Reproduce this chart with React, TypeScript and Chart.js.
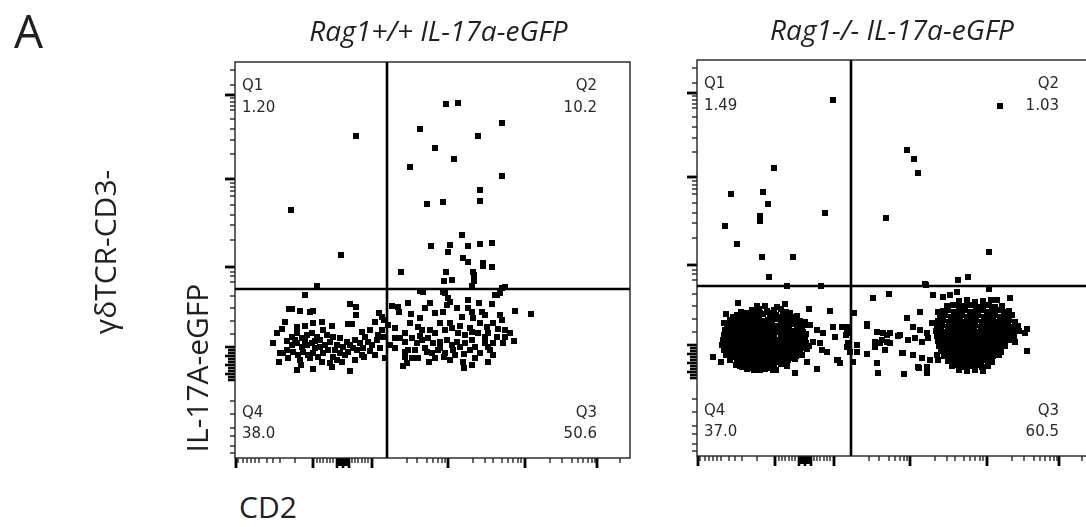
import React, { useEffect, useRef } from "react";
import { Chart, registerables } from "chart.js";

Chart.register(...registerables);

// ---------------- text ----------------
const panelLetter = "A";
const panelTitles = ["Rag1+/+ IL-17a-eGFP", "Rag1-/- IL-17a-eGFP"];
const rowLabel = "γδTCR-CD3-";
const yAxisTitle = "IL-17A-eGFP";
const xAxisTitle = "CD2";
const quadrantNames = ["Q1", "Q2", "Q3", "Q4"];
const wtPercents = ["1.20", "10.2", "50.6", "38.0"];
const koPercents = ["1.49", "1.03", "60.5", "37.0"];

// ---------------- gates (axis units) ----------------
const wtGate = [152, 169];
const koGate = [154, 170];

// ---------------- axis ticks (transformed channel units) ----------------
const xMajorTicks = [1, 78, 137, 213, 290, 362];
const xMinorTicks = [3, 8, 12, 16, 20, 24, 32, 38, 45, 60, 82, 85, 88, 92, 95, 98, 117, 120, 123, 127, 130, 133, 172, 182, 192, 198, 203, 207, 210, 238, 250, 258, 267, 273, 278, 283, 286, 315, 327, 337, 343, 348, 353, 357, 360, 385];
const xZeroTicks = [102, 104, 106, 108, 110, 112, 114];
const yMajorTicks = [363, 279, 191];
const yMinorTicks = [388, 373, 360, 356, 352, 348, 339, 329, 318, 304, 275, 271, 267, 262, 253, 243, 233, 218, 186, 182, 176, 162, 150, 137, 124, 57, 44, 30, 22, 12, 5];
const yZeroTicks = [78, 81, 84, 87, 90, 93, 96, 99, 102, 105, 108, 111];

// ---------------- Rag1+/+ events ----------------
const wtQ1 = [[121, 322], [56, 248], [106, 203], [82, 172]];
const wtQ2 = [
  [211, 354], [223, 355], [267, 335], [185, 329], [243, 322], [200, 310], [219, 299], [175, 291], [267, 282], [245, 268],
  [245, 257], [192, 254], [208, 256], [227, 223], [196, 212], [215, 213], [213, 206], [233, 212], [245, 214], [257, 215],
  [228, 200], [233, 196], [248, 195], [248, 192], [257, 191], [166, 186], [211, 186], [238, 186], [239, 183], [209, 177],
  [217, 178], [239, 177], [237, 172], [270, 171], [267, 170],
];
const wtQ3 = [
  [188, 166], [210, 165], [213, 160], [212, 153], [233, 158], [260, 163], [257, 154], [280, 147], [296, 144], [173, 155],
  [157, 152], [163, 151], [164, 146], [195, 155], [190, 150], [200, 145], [208, 146], [233, 150], [237, 146], [247, 146],
  [250, 143], [265, 143], [267, 138], [227, 141], [238, 140], [245, 135], [252, 131], [263, 129], [153, 133], [160, 130],
  [170, 125], [183, 131], [187, 128], [200, 125], [210, 128], [217, 130], [223, 125], [230, 123], [237, 126], [243, 125],
  [250, 121], [253, 125], [262, 121], [270, 121], [279, 117], [155, 113], [160, 110], [170, 116], [177, 120], [182, 115],
  [187, 118], [193, 120], [198, 115], [205, 116], [212, 118], [217, 113], [222, 116], [230, 115], [237, 118], [240, 111],
  [253, 111], [170, 106], [173, 108], [192, 106], [197, 105], [203, 108], [210, 105], [218, 108], [225, 111], [170, 101],
  [183, 100], [194, 96], [168, 92], [172, 95], [177, 100], [209, 101], [229, 104], [229, 90], [237, 93], [253, 96],
  [255, 108], [215, 135], [225, 132], [235, 130], [205, 135], [195, 128], [175, 135], [165, 120], [185, 122], [190, 110],
  [200, 100], [215, 98], [220, 103], [235, 108], [245, 105], [250, 115], [258, 115], [240, 100], [228, 96], [205, 110],
  [180, 108], [160, 120], [258, 135], [244, 155], [222, 150], [270, 128], [268, 115], [275, 125], [185, 140], [176, 144],
  [258, 103], [262, 163], [265, 165], [185, 167], [208, 166], [215, 156],
];
const wtQ4 = [
  [70, 163], [54, 149], [57, 149], [65, 147], [75, 146], [78, 147], [115, 154], [121, 151], [121, 143], [50, 136],
  [47, 129], [42, 125], [38, 115], [45, 105], [44, 96], [62, 88], [78, 89], [97, 91], [115, 87], [62, 131],
  [70, 132], [78, 135], [87, 136], [97, 132], [113, 134], [117, 134], [127, 126], [135, 128], [140, 136], [147, 141],
  [149, 138], [57, 121], [62, 125], [67, 120], [72, 123], [77, 125], [82, 121], [85, 118], [57, 113], [62, 115],
  [67, 111], [72, 113], [77, 115], [80, 110], [85, 111], [58, 106], [63, 103], [68, 106], [73, 103], [78, 105],
  [83, 101], [65, 98], [75, 100], [52, 108], [48, 105], [53, 100], [88, 128], [92, 123], [95, 116], [98, 121],
  [102, 113], [105, 120], [108, 111], [112, 116], [115, 113], [120, 118], [125, 115], [130, 121], [133, 116], [137, 113],
  [142, 118], [143, 123], [128, 110], [122, 108], [113, 106], [105, 105], [98, 101], [95, 95], [102, 98], [110, 103],
  [127, 103], [147, 128], [148, 121], [150, 100], [129, 101], [60, 118], [70, 117], [80, 117], [90, 113], [88, 105],
  [93, 108], [100, 108], [118, 110], [135, 107], [140, 103], [145, 110], [52, 117], [66, 93], [87, 96], [107, 96],
  [120, 98], [144, 145],
];

// ---------------- Rag1-/- events ----------------
const koQ1 = [
  [136, 356], [77, 288], [34, 262], [66, 264], [71, 252], [63, 240], [63, 235], [28, 230], [128, 243], [40, 212],
  [65, 199], [96, 199], [72, 179], [90, 170], [124, 170],
];
const koQ2 = [[303, 350], [210, 306], [217, 297], [221, 283], [189, 238], [292, 204], [271, 179], [261, 176], [229, 171]];
const koQ3Outer = [
  [176, 158], [192, 162], [228, 172], [236, 161], [246, 159], [253, 161], [260, 164], [292, 167], [313, 158], [157, 143],
  [170, 132], [180, 124], [186, 123], [193, 123], [178, 114], [183, 113], [190, 114], [178, 109], [188, 106], [160, 111],
  [160, 104], [170, 102], [180, 93], [181, 83], [203, 121], [210, 138], [223, 144], [216, 129], [223, 126], [230, 123],
  [235, 133], [211, 116], [218, 118], [225, 114], [231, 118], [206, 103], [216, 101], [225, 98], [233, 96], [221, 89],
  [230, 89], [230, 83], [207, 82], [330, 127], [328, 123], [330, 105], [321, 130], [318, 114], [313, 141], [300, 156],
  [241, 144], [243, 134], [240, 101], [241, 96], [156, 94], [170, 130], [185, 116], [190, 121], [193, 113], [201, 120],
  [205, 103], [222, 88],
];
const koQ3Core = [
  [262, 155], [270, 156], [278, 154], [286, 155], [294, 156],
  [250, 150], [256, 151], [262, 149], [268, 150], [274, 151], [280, 149], [286, 150], [292, 151], [298, 149], [305, 150],
  [246, 145], [251, 146], [257, 144], [262, 145], [268, 146], [273, 144], [279, 145], [284, 146], [290, 144], [295, 145], [301, 146], [307, 144], [312, 145],
  [243, 140], [248, 141], [254, 139], [259, 140], [265, 141], [270, 139], [276, 140], [281, 141], [287, 139], [292, 140], [298, 141], [303, 139], [309, 140], [315, 141],
  [241, 135], [246, 136], [252, 134], [257, 135], [263, 136], [268, 134], [274, 135], [279, 136], [285, 134], [290, 135], [296, 136], [301, 134], [307, 135], [312, 136], [318, 134],
  [240, 130], [245, 131], [251, 129], [256, 130], [262, 131], [267, 129], [273, 130], [278, 131], [284, 129], [289, 130], [295, 131], [300, 129], [306, 130], [311, 131], [316, 129],
  [239, 125], [244, 126], [250, 124], [255, 125], [261, 126], [266, 124], [272, 125], [277, 126], [283, 124], [288, 125], [294, 126], [299, 124], [305, 125], [310, 126], [316, 124], [322, 125],
  [240, 120], [245, 121], [251, 119], [256, 120], [262, 121], [267, 119], [273, 120], [278, 121], [284, 119], [289, 120], [295, 121], [300, 119], [306, 120], [311, 121], [317, 119],
  [241, 115], [246, 116], [252, 114], [257, 115], [263, 116], [268, 114], [274, 115], [279, 116], [285, 114], [290, 115], [296, 116], [301, 114], [307, 115], [312, 116],
  [242, 110], [247, 111], [253, 109], [258, 110], [264, 111], [269, 109], [275, 110], [280, 111], [286, 109], [291, 110], [297, 111], [302, 109], [308, 110],
  [244, 105], [249, 106], [255, 104], [260, 105], [266, 106], [271, 104], [277, 105], [282, 106], [288, 104], [293, 105], [299, 106], [304, 104],
  [247, 100], [252, 101], [258, 99], [263, 100], [269, 101], [274, 99], [280, 100], [285, 101], [291, 99], [296, 100], [302, 101],
  [251, 95], [256, 96], [262, 94], [267, 95], [273, 96], [278, 94], [284, 95], [289, 96], [295, 94],
  [255, 90], [261, 91], [267, 89], [273, 90], [279, 91], [285, 89], [291, 90],
  [262, 86], [270, 85], [278, 86], [286, 85],
];
const koQ4Outer = [
  [41, 153], [29, 142], [27, 133], [60, 150], [68, 150], [80, 149], [88, 152], [93, 143], [100, 140], [112, 147],
  [133, 145], [108, 134], [108, 131], [136, 129], [145, 129], [138, 119], [150, 123], [151, 113], [153, 104], [141, 96],
  [143, 93], [120, 87], [98, 83], [16, 99], [24, 94], [43, 90], [63, 86], [76, 86], [90, 90], [110, 94],
  [125, 106], [130, 104], [120, 126], [126, 123], [116, 114], [123, 113], [151, 129], [149, 121], [150, 109], [140, 96],
];
const koQ4Core = [
  [55, 146], [62, 147], [70, 145], [77, 146], [84, 147],
  [40, 141], [47, 142], [53, 140], [60, 141], [66, 142], [73, 140], [79, 141], [86, 142], [92, 140],
  [33, 136], [39, 137], [46, 135], [52, 136], [58, 137], [65, 135], [71, 136], [78, 137], [84, 135], [90, 136], [97, 137], [103, 135],
  [30, 131], [36, 132], [43, 130], [49, 131], [56, 132], [62, 130], [68, 131], [75, 132], [81, 130], [87, 131], [94, 132], [100, 130], [113, 131],
  [28, 126], [34, 127], [41, 125], [47, 126], [54, 127], [60, 125], [66, 126], [73, 127], [79, 125], [85, 126], [92, 127], [98, 125], [105, 126],
  [27, 121], [33, 122], [39, 120], [46, 121], [52, 122], [58, 120], [64, 121], [71, 122], [77, 120], [84, 121], [90, 122], [96, 120], [102, 121], [109, 122],
  [26, 116], [32, 117], [38, 115], [45, 116], [51, 117], [57, 115], [64, 116], [70, 117], [76, 115], [82, 116], [89, 117], [95, 115], [101, 116], [108, 117],
  [25, 111], [31, 112], [37, 110], [44, 111], [50, 112], [56, 110], [63, 111], [69, 112], [75, 110], [81, 111], [88, 112], [94, 110], [100, 111], [106, 112], [112, 110],
  [27, 106], [33, 107], [40, 105], [46, 106], [52, 107], [59, 105], [65, 106], [71, 107], [78, 105], [84, 106], [90, 107], [97, 105], [103, 106], [110, 107],
  [29, 101], [35, 102], [42, 100], [48, 101], [55, 102], [61, 100], [67, 101], [74, 102], [80, 100], [86, 101], [93, 102], [99, 100], [105, 101],
  [33, 96], [40, 97], [46, 95], [53, 96], [59, 97], [66, 95], [72, 96], [78, 97], [85, 95], [91, 96], [98, 97],
  [39, 91], [46, 92], [52, 90], [58, 91], [65, 92], [71, 90], [77, 91], [84, 92],
  [50, 87], [57, 86], [68, 87], [79, 86],
];
const koQ4Inner = [
  [44, 144], [50, 143], [57, 144], [63, 143], [70, 144], [76, 143], [89, 144],
  [36, 139], [43, 138], [49, 139], [55, 138], [62, 139], [75, 138], [81, 139], [87, 138], [94, 139], [100, 138],
  [33, 134], [40, 133], [46, 134], [53, 133], [59, 134], [65, 133], [72, 134], [84, 133], [91, 134], [97, 133], [106, 134],
  [31, 129], [38, 128], [44, 129], [51, 128], [57, 129], [63, 128], [70, 129], [76, 128], [82, 129], [89, 128], [102, 129],
  [30, 124], [36, 123], [43, 124], [49, 123], [55, 124], [61, 123], [68, 124], [74, 123], [81, 124], [87, 123], [93, 124], [99, 123], [106, 124],
  [29, 119], [35, 118], [42, 119], [48, 118], [54, 119], [61, 118], [67, 119], [73, 118], [86, 119], [92, 118], [98, 119], [105, 118],
  [28, 114], [34, 113], [41, 114], [47, 113], [53, 114], [60, 113], [66, 114], [72, 113], [78, 114], [85, 113], [91, 114], [97, 113], [103, 114], [109, 113],
  [30, 109], [36, 108], [43, 109], [49, 108], [56, 109], [62, 108], [68, 109], [74, 108], [81, 109], [87, 108], [93, 109], [106, 108],
  [32, 104], [38, 103], [45, 104], [51, 103], [58, 104], [64, 103], [70, 104], [77, 103], [83, 104], [89, 103], [96, 104], [102, 103],
  [36, 99], [43, 98], [49, 99], [56, 98], [62, 99], [69, 98], [75, 99], [81, 98], [88, 99], [94, 98],
  [42, 94], [49, 93], [55, 94], [62, 93], [68, 94], [74, 93], [81, 94], [87, 93],
  [45, 89], [54, 88], [62, 89], [73, 88],
];

// ---------------- chart plumbing ----------------
const X_MAX = 395;
const Y_MAX = 396;
const CANVAS = 420;
const PAD = { left: 15, top: 7, right: 10, bottom: 17 };

const flowPlugin = {
  id: "flowGates",
  afterDatasetsDraw(chart: any, _args: any, opts: any) {
    const { ctx, chartArea: a, scales } = chart;
    const xs = scales.x;
    const ys = scales.y;
    ctx.save();
    ctx.strokeStyle = "#000";
    ctx.lineCap = "butt";
    const yTick = (v: number, len: number, w: number) => {
      const p = ys.getPixelForValue(v);
      ctx.lineWidth = w;
      ctx.beginPath();
      ctx.moveTo(a.left - len, p);
      ctx.lineTo(a.left, p);
      ctx.stroke();
    };
    const xTick = (v: number, len: number, w: number) => {
      const p = xs.getPixelForValue(v);
      ctx.lineWidth = w;
      ctx.beginPath();
      ctx.moveTo(p, a.bottom);
      ctx.lineTo(p, a.bottom + len);
      ctx.stroke();
    };
    yMinorTicks.forEach((v) => yTick(v, 5, 1.2));
    yMajorTicks.forEach((v) => yTick(v, 10, 2.8));
    yZeroTicks.forEach((v, i) => yTick(v, i % 3 === 2 ? 10 : 7, 2.6));
    xMinorTicks.forEach((v) => xTick(v, 5, 1.2));
    xMajorTicks.forEach((v) => xTick(v, 10, 2.8));
    xZeroTicks.forEach((v, i) => xTick(v, i % 3 === 0 ? 10 : 8, 2.6));

    // frame
    ctx.strokeStyle = "#222";
    ctx.lineWidth = 1.4;
    ctx.strokeRect(a.left, a.top, a.right - a.left, a.bottom - a.top);

    // quadrant gate
    const g = opts.gate as number[];
    const gx = xs.getPixelForValue(g[0]);
    const gy = ys.getPixelForValue(g[1]);
    ctx.strokeStyle = "#000";
    ctx.lineWidth = 2.6;
    ctx.beginPath();
    ctx.moveTo(gx, a.top);
    ctx.lineTo(gx, a.bottom);
    ctx.moveTo(a.left, gy);
    ctx.lineTo(a.right, gy);
    ctx.stroke();
    ctx.restore();
  },
};

type Pts = number[][];

function FlowPanel(props: { left: number; top: number; groups: Pts[]; gate: number[] }) {
  const ref = useRef<HTMLCanvasElement | null>(null);
  useEffect(() => {
    if (!ref.current) return;
    const datasets = props.groups.map((d, i) => ({
      label: "events " + i,
      data: d.map(([x, y]) => ({ x, y })),
      pointStyle: "rect" as const,
      pointRadius: 4.25,
      pointHoverRadius: 4.25,
      backgroundColor: "#000",
      borderColor: "#000",
      borderWidth: 0,
      showLine: false,
    }));
    const chart = new Chart(ref.current, {
      type: "scatter",
      data: { datasets },
      options: {
        animation: false,
        responsive: false,
        devicePixelRatio: 1,
        events: [],
        layout: { padding: PAD },
        scales: {
          x: { type: "linear", min: 0, max: X_MAX, display: false },
          y: { type: "linear", min: 0, max: Y_MAX, display: false },
        },
        plugins: {
          legend: { display: false },
          tooltip: { enabled: false },
          flowGates: { gate: props.gate },
        } as any,
      },
      plugins: [flowPlugin],
    });
    return () => chart.destroy();
  }, []);
  return (
    <canvas
      ref={ref}
      width={CANVAS}
      height={CANVAS}
      style={{ position: "absolute", left: props.left, top: props.top, width: CANVAS, height: CANVAS }}
    />
  );
}

// text helpers: place by alphabetic baseline
const OPEN_ASC = 0.888;
const DEJAVU_ASC = 0.846;

function Txt(props: {
  x: number;
  baseline: number;
  size: number;
  text: string;
  align?: "left" | "center" | "right";
  italic?: boolean;
  mono?: boolean;
  color?: string;
}) {
  const { x, baseline, size, text, align = "left", italic, mono, color } = props;
  const asc = mono ? DEJAVU_ASC : OPEN_ASC;
  const W = 600;
  const left = align === "left" ? x : align === "center" ? x - W / 2 : x - W;
  return (
    <div
      style={{
        position: "absolute",
        left,
        top: baseline - asc * size,
        width: W,
        height: size,
        lineHeight: `${size}px`,
        fontSize: size,
        fontFamily: mono ? '"DejaVu Sans", sans-serif' : '"Open Sans", sans-serif',
        fontStyle: italic ? "italic" : "normal",
        textAlign: align,
        whiteSpace: "nowrap",
        color: color || "#231f20",
      }}
    >
      {text}
    </div>
  );
}

function VTxt(props: { cx: number; cy: number; size: number; text: string }) {
  const { cx, cy, size, text } = props;
  const W = 400;
  return (
    <div
      style={{
        position: "absolute",
        left: cx - W / 2,
        top: cy - size / 2,
        width: W,
        height: size,
        lineHeight: `${size}px`,
        fontSize: size,
        fontFamily: '"Open Sans", sans-serif',
        textAlign: "center",
        whiteSpace: "nowrap",
        color: "#231f20",
        transform: "rotate(-90deg)",
      }}
    >
      {text}
    </div>
  );
}

function QuadLabels(props: { L: number; T: number; R: number; B: number; pct: string[] }) {
  const { L, T, R, B, pct } = props;
  const s = 15;
  const c = "#2a2a2a";
  return (
    <>
      <Txt x={L + 7} baseline={T + 29} size={s} text={quadrantNames[0]} mono color={c} />
      <Txt x={L + 7} baseline={T + 50.5} size={s} text={pct[0]} mono color={c} />
      <Txt x={R - 33} baseline={T + 29} size={s} text={quadrantNames[1]} align="right" mono color={c} />
      <Txt x={R - 33} baseline={T + 50.5} size={s} text={pct[1]} align="right" mono color={c} />
      <Txt x={R - 33} baseline={B - 40} size={s} text={quadrantNames[2]} align="right" mono color={c} />
      <Txt x={R - 33} baseline={B - 19} size={s} text={pct[2]} align="right" mono color={c} />
      <Txt x={L + 7} baseline={B - 40} size={s} text={quadrantNames[3]} mono color={c} />
      <Txt x={L + 7} baseline={B - 19} size={s} text={pct[3]} mono color={c} />
    </>
  );
}

export default function App() {
  const p1 = { left: 220, top: 55 };
  const p2 = { left: 682, top: 53 };
  const box = (p: { left: number; top: number }) => ({
    L: p.left + PAD.left,
    T: p.top + PAD.top,
    R: p.left + CANVAS - PAD.right,
    B: p.top + CANVAS - PAD.bottom,
  });
  const b1 = box(p1);
  const b2 = box(p2);
  return (
    <div
      style={{
        position: "absolute",
        left: 0,
        top: 0,
        width: 1086,
        height: 527,
        overflow: "hidden",
        background: "#fff",
      }}
    >
      <FlowPanel left={p1.left} top={p1.top} groups={[wtQ1, wtQ2, wtQ3, wtQ4]} gate={wtGate} />
      <FlowPanel
        left={p2.left}
        top={p2.top}
        groups={[koQ1, koQ2, koQ3Outer, koQ3Core, koQ4Outer, koQ4Core, koQ4Inner]}
        gate={koGate}
      />
      <QuadLabels {...b1} pct={wtPercents} />
      <QuadLabels {...b2} pct={koPercents} />
      <Txt x={14} baseline={48} size={46} text={panelLetter} />
      <Txt x={438.5} baseline={40.5} size={28} text={panelTitles[0]} align="center" italic />
      <Txt x={892} baseline={40} size={28} text={panelTitles[1]} align="center" italic />
      <VTxt cx={105} cy={251.5} size={30} text={rowLabel} />
      <VTxt cx={196.5} cy={367.5} size={30} text={yAxisTitle} />
      <Txt x={239} baseline={518.5} size={30} text={xAxisTitle} />
    </div>
  );
}
